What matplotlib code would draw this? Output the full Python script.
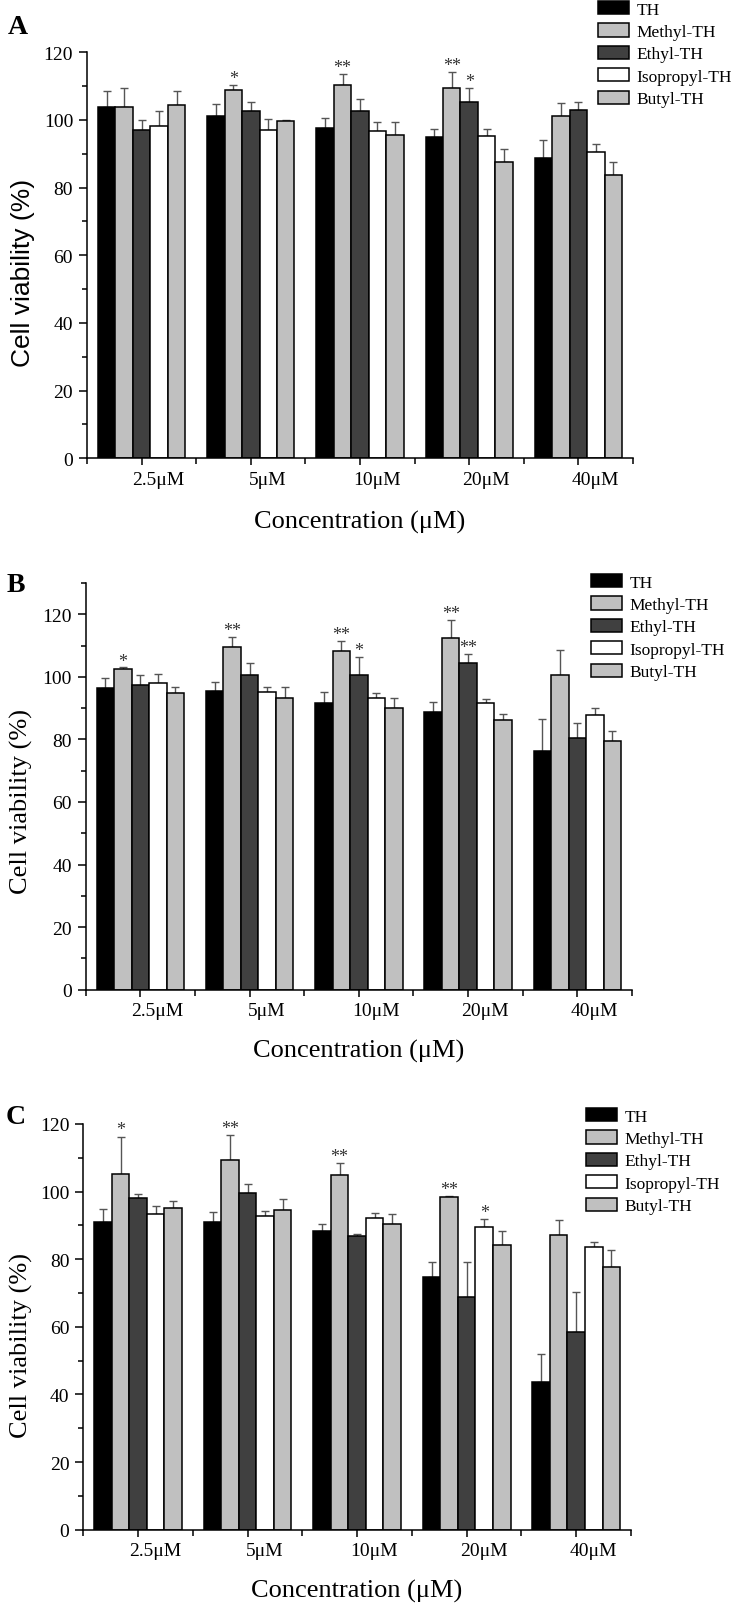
import numpy as np
import matplotlib
matplotlib.use("Agg")
import matplotlib.pyplot as plt
from matplotlib.transforms import ScaledTranslation

plt.rcParams['font.family'] = ['Liberation Serif', 'DejaVu Serif']

conc_labels = ['2.5μM', '5μM', '10μM', '20μM', '40μM']
series = ['TH', 'Methyl-TH', 'Ethyl-TH', 'Isopropyl-TH', 'Butyl-TH']
colors = ['black', '#c0c0c0', '#404040', 'white', '#c0c0c0']

# panel A
a_th = [103.9, 101.3, 97.7, 95.1, 88.8]
a_methyl = [103.9, 108.8, 110.4, 109.5, 101.1]
a_ethyl = [97.1, 102.7, 102.6, 105.3, 102.9]
a_iso = [98.1, 97.1, 96.8, 95.3, 90.4]
a_butyl = [104.3, 99.7, 95.7, 87.7, 83.8]
a_th_err = [4.7, 3.5, 2.9, 2.1, 5.2]
a_methyl_err = [5.5, 1.6, 3.2, 4.8, 3.9]
a_ethyl_err = [3.0, 2.7, 3.7, 4.1, 2.5]
a_iso_err = [4.6, 3.1, 2.7, 2.1, 2.4]
a_butyl_err = [4.4, 0.3, 3.6, 3.6, 3.9]
a_stars = [(1, 1, '*'), (2, 1, '**'), (3, 1, '**'), (3, 2, '*')]

# panel B
b_th = [96.3, 95.5, 91.8, 88.8, 76.3]
b_methyl = [102.5, 109.7, 108.3, 112.5, 100.6]
b_ethyl = [97.4, 100.6, 100.6, 104.3, 80.6]
b_iso = [98.1, 95.0, 93.4, 91.6, 87.7]
b_butyl = [94.9, 93.2, 90.0, 86.3, 79.4]
b_th_err = [3.2, 2.8, 3.3, 3.2, 10.1]
b_methyl_err = [0.5, 3.0, 3.1, 5.6, 8.1]
b_ethyl_err = [3.2, 3.7, 5.8, 3.0, 4.8]
b_iso_err = [2.9, 1.9, 1.5, 1.2, 2.4]
b_butyl_err = [1.8, 3.5, 3.3, 1.8, 3.4]
b_stars = [(0, 1, '*'), (1, 1, '**'), (2, 1, '**'), (2, 2, '*'), (3, 1, '**'), (3, 2, '**')]

# panel C
c_th = [91.0, 91.1, 88.3, 74.8, 43.6]
c_methyl = [105.1, 109.3, 105.0, 98.3, 87.2]
c_ethyl = [98.2, 99.5, 86.8, 68.7, 58.4]
c_iso = [93.5, 92.7, 92.3, 89.5, 83.5]
c_butyl = [95.3, 94.6, 90.3, 84.3, 77.7]
c_th_err = [3.8, 2.8, 2.2, 4.4, 8.4]
c_methyl_err = [11.2, 7.4, 3.4, 0.5, 4.3]
c_ethyl_err = [1.0, 2.9, 0.7, 10.5, 12.0]
c_iso_err = [2.1, 1.6, 1.5, 2.5, 1.6]
c_butyl_err = [2.0, 3.2, 3.2, 4.1, 4.9]
c_stars = [(0, 1, '*'), (1, 1, '**'), (2, 1, '**'), (3, 1, '**'), (3, 3, '*')]

W, H = 732, 1608
fig = plt.figure(figsize=(W / 100, H / 100), dpi=100)


def fx(x):
    return x / W


def fy(y):
    return 1 - y / H


def draw_panel(box, ymax, means, errs, stars, letter, letter_xy, xlab_xy, ylab_xy, ylab_font, leg_xy):
    left, right, bottom, top = box
    ax = fig.add_axes([fx(left), fy(bottom), fx(right) - fx(left), fy(top) - fy(bottom)])
    x = np.arange(len(conc_labels))
    w = 0.16
    for i, name in enumerate(series):
        pos = x + (i - 2) * w
        ax.bar(pos, means[i], w, color=colors[i], edgecolor='black', linewidth=1.1, label=name, zorder=2)
        ax.errorbar(pos, means[i], yerr=[np.zeros(len(x)), errs[i]], fmt='none',
                    ecolor='#555555', elinewidth=1.0, capsize=3, capthick=1.0, zorder=1)
    for g, s, txt in stars:
        ax.text(g + (s - 2) * w, means[s][g] + errs[s][g] + 0.6, txt, ha='center', va='baseline',
                fontsize=13, color='#333333')

    ax.set_xlim(-0.5, 4.5)
    ax.set_ylim(0, ymax)
    ax.set_xticks(x)
    ax.set_xticklabels(conc_labels, fontsize=14)
    ax.set_xticks(np.arange(-0.5, 5, 1), minor=True)
    ax.set_yticks(np.arange(0, 121, 20))
    ax.set_yticks(np.arange(0, ymax + 1, 10), minor=True)
    ax.tick_params(axis='y', labelsize=14, length=6, width=1.1, pad=4)
    ax.tick_params(axis='y', which='minor', length=3.5, width=1.1)
    ax.tick_params(axis='x', length=5, width=1.1, pad=4)
    ax.tick_params(axis='x', which='minor', length=4, width=1.1)
    for lab in ax.get_xticklabels():
        lab.set_transform(lab.get_transform() + ScaledTranslation(0.17, 0, fig.dpi_scale_trans))
    for side in ['top', 'right']:
        ax.spines[side].set_visible(False)
    for side in ['left', 'bottom']:
        ax.spines[side].set_linewidth(1.1)

    fig.text(fx(letter_xy[0]), fy(letter_xy[1]), letter, fontsize=20, fontweight='bold',
             ha='center', va='center')
    fig.text(fx(xlab_xy[0]), fy(xlab_xy[1]), 'Concentration (μM)', fontsize=19,
             ha='center', va='center')
    fig.text(fx(ylab_xy[0]), fy(ylab_xy[1]), 'Cell viability (%)', fontsize=19,
             ha='center', va='center', rotation=90, family=ylab_font)

    ax.legend(loc='upper left', bbox_to_anchor=(fx(leg_xy[0]), fy(leg_xy[1])),
              bbox_transform=fig.transFigure, frameon=False, fontsize=12.5,
              borderpad=0, borderaxespad=0, handlelength=1.8, handleheight=0.8,
              handletextpad=0.4, labelspacing=0.33)
    return ax


draw_panel((87, 633, 459.3, 53.3), 120,
           [a_th, a_methyl, a_ethyl, a_iso, a_butyl],
           [a_th_err, a_methyl_err, a_ethyl_err, a_iso_err, a_butyl_err],
           a_stars, 'A', (18, 28), (360, 522), (23.5, 273), ['Liberation Sans'], (598, 2))

draw_panel((85.7, 632, 990.7, 584), 130,
           [b_th, b_methyl, b_ethyl, b_iso, b_butyl],
           [b_th_err, b_methyl_err, b_ethyl_err, b_iso_err, b_butyl_err],
           b_stars, 'B', (16, 585), (359, 1051), (21, 802), ['Liberation Serif'], (591, 575))

draw_panel((83.3, 631, 1530.7, 1125), 120,
           [c_th, c_methyl, c_ethyl, c_iso, c_butyl],
           [c_th_err, c_methyl_err, c_ethyl_err, c_iso_err, c_butyl_err],
           c_stars, 'C', (16, 1117), (357, 1591), (21, 1346), ['Liberation Serif'], (586, 1109))

fig.savefig('out.png', dpi=100)
